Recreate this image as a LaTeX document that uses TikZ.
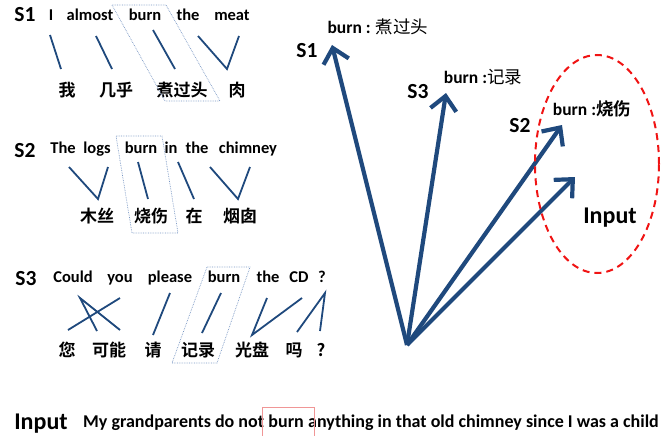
\documentclass[tikz,border=0pt]{standalone}
\usepackage{fontspec}
\setmainfont{Carlito}
\newfontfamily\cjk{Noto Sans CJK SC}[BoldFont={Noto Sans CJK SC Bold}]
\usetikzlibrary{arrows.meta,shapes.geometric}
\definecolor{vblue}{RGB}{31,73,125}
\definecolor{boxblue}{RGB}{120,150,195}
\definecolor{ellred}{RGB}{240,20,20}
\definecolor{rboxred}{RGB}{240,150,150}
\tikzset{
  lab/.style={font=\fontsize{21.5}{21.5}\selectfont\bfseries, inner sep=0pt, anchor=base},
  big/.style={font=\fontsize{24}{24}\selectfont\bfseries, inner sep=0pt, anchor=base},
  wrd/.style={font=\fontsize{16.5}{16.5}\selectfont\bfseries, inner sep=0pt, anchor=base},
  zh/.style={font=\cjk\bfseries\fontsize{17}{17}\selectfont, inner sep=0pt},
  link/.style={draw=vblue, line width=1.8pt},
  pgram/.style={draw=boxblue, densely dotted, line width=0.7pt},
  vec/.style={draw=vblue, line width=4.2pt, -{Straight Barb[length=14pt,width=26pt,line width=4.2pt]}},
  tlab/.style={font=\fontsize{17.5}{17.5}\selectfont\bfseries, inner sep=0pt},
  sent/.style={font=\fontsize{18}{18}\selectfont\bfseries, inner sep=0pt, anchor=base west},
}
\begin{document}
\begin{tikzpicture}[x=1pt,y=-1pt]
\useasboundingbox (0,0) rectangle (669,436);
% ---------- S1 ----------
\node[lab] (s1) at (25,22) {S1};
\node[wrd] (s1w1) at (51,21) {I};
\node[wrd] (s1w2) at (90,21) {almost};
\node[wrd] (s1w3) at (145,21) {burn};
\node[wrd] (s1w4) at (188,21) {the};
\node[wrd] (s1w5) at (232,21) {meat};
\node[zh] (s1c1) at (67,90) {我};
\node[zh] (s1c2) at (116,90) {几乎};
\node[zh] (s1c3) at (182,90) {煮过头};
\node[zh] (s1c4) at (237,90) {肉};
\draw[pgram] (112,5) coordinate (p1a) -- (166,5) coordinate (p1b) -- (220,101) coordinate (p1c) -- (165,101) coordinate (p1d) -- cycle;
\draw[link] (50,35) coordinate (l1a) -- (61,69) coordinate (l1b);
\draw[link] (96,36) coordinate (l2a) -- (112,69) coordinate (l2b);
\draw[link] (153,30) coordinate (l3a) -- (175,69) coordinate (l3b);
\draw[link] (198,36) coordinate (l4a) -- (227,69) coordinate (l4b) -- (239,36) coordinate (l4c);
% ---------- S2 ----------
\node[lab] (s2) at (25,157) {S2};
\node[wrd] (s2w1) at (63,153) {The};
\node[wrd] (s2w2) at (97,153) {logs};
\node[wrd] (s2w3) at (141,153) {burn};
\node[wrd] (s2w4) at (171,153) {in};
\node[wrd] (s2w5) at (197,153) {the};
\node[wrd] (s2w6) at (248,153) {chimney};
\node[zh] (s2c1) at (97,216) {木丝};
\node[zh] (s2c2) at (151,216) {烧伤};
\node[zh] (s2c3) at (194,216) {在};
\node[zh] (s2c4) at (240,216) {烟囱};
\draw[pgram] (116,136) coordinate (p2a) -- (162,136) coordinate (p2b) -- (178,233) coordinate (p2c) -- (132,233) coordinate (p2d) -- cycle;
\draw[link] (69,167) coordinate (m1a) -- (98,199) coordinate (m1b) -- (108,167) coordinate (m1c);
\draw[link] (138,162) coordinate (m2a) -- (148,199) coordinate (m2b);
\draw[link] (178,162) coordinate (m3a) -- (194,199) coordinate (m3b);
\draw[link] (210,167) coordinate (m4a) -- (238,199) coordinate (m4b) -- (250,167) coordinate (m4c);
% ---------- S3 ----------
\node[lab] (s3) at (26,285) {S3};
\node[wrd] (s3w1) at (73,282) {Could};
\node[wrd] (s3w2) at (120,282) {you};
\node[wrd] (s3w3) at (170,282) {please};
\node[wrd] (s3w4) at (224,282) {burn};
\node[wrd] (s3w5) at (268,282) {the};
\node[wrd] (s3w6) at (299,282) {CD};
\node[wrd] (s3w7) at (322,282) {?};
\node[zh] (s3c1) at (67,350) {您};
\node[zh] (s3c2) at (109,350) {可能};
\node[zh] (s3c3) at (153,350) {请};
\node[zh] (s3c4) at (198,350) {记录};
\node[zh] (s3c5) at (252,350) {光盘};
\node[zh] (s3c6) at (294,350) {吗};
\node[zh] (s3c7) at (321,350) {?};
\draw[pgram] (207,267) coordinate (p3a) -- (250,267) coordinate (p3b) -- (217,363) coordinate (p3c) -- (172,363) coordinate (p3d) -- cycle;
\draw[link] (97,331) coordinate (n1b) -- (80,298) coordinate (n1a) -- (120,330) coordinate (n1c);
\draw[link] (120,298) coordinate (n2a) -- (68,330) coordinate (n2b);
\draw[link] (170,293) coordinate (n3a) -- (153,335) coordinate (n3b);
\draw[link] (221,293) coordinate (n4a) -- (202,333) coordinate (n4b);
\draw[link] (267,298) coordinate (n5a) -- (252,335) coordinate (n5b) -- (302,298) coordinate (n5c);
\draw[link] (297,332) coordinate (n6b) -- (325,293) coordinate (n6a) -- (320,331) coordinate (n6c);
% ---------- vectors ----------
\coordinate (O) at (407,345);
\coordinate (t1) at (332,45);
\coordinate (t3) at (446,93);
\coordinate (t2) at (562,125);
\coordinate (ti) at (575,177);
\draw[vec] (O) -- (t1);
\draw[vec] (O) -- (t3);
\draw[vec] (O) -- (t2);
\draw[vec] (O) -- (ti);
\node[lab] (v1) at (307,57) {S1};
\node[lab] (v3) at (418,98) {S3};
\node[lab] (v2) at (520,132) {S2};
\node[big] (vi) at (610,223) {Input};
\node[tlab] (b1) at (378,27) {burn : {\cjk\mdseries 煮过头}};
\node[tlab] (b3) at (483,77) {burn :{\cjk\mdseries 记录}};
\node[tlab] (b2) at (592,109) {burn :{\cjk\bfseries 烧伤}};
\node[draw=ellred, dash pattern=on 7pt off 5pt, line width=2pt, ellipse, minimum width=124pt, minimum height=218pt] (ell) at (597,164) {};
% ---------- Input ----------
\node[big] (inp) at (41,429) {Input};
\node[sent] (sa) at (83,427) {My grandparents do not};
\node[sent] (sb) at ([xshift=4pt]sa.base east) {burn};
\node[sent] (sc) at ([xshift=4pt]sb.base east) {anything in that old chimney since I was a child};
\coordinate (rtop) at (0,407);
\coordinate (rbot) at (0,437);
\coordinate (rl) at ([xshift=-6pt]sb.west);
\coordinate (rr) at ([xshift=10pt]sb.east);
\draw[draw=rboxred, line width=0.6pt] (rl |- rbot) -- (rl |- rtop) -- (rr |- rtop) -- (rr |- rbot);
\end{tikzpicture}
\end{document}
